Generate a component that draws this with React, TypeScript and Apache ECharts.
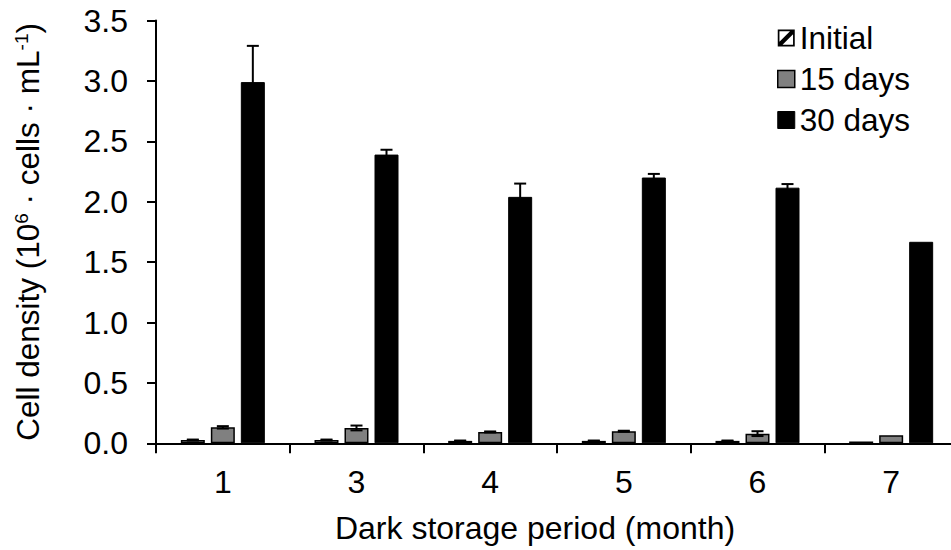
import React, { useEffect, useRef } from "react";
import * as echarts from "echarts";

// Dark storage period (months)
const categories = ["1", "3", "4", "5", "6", "7"];

// Cell density, 10^6 cells/mL
const initialValues = [0.027, 0.027, 0.02, 0.02, 0.02, 0.015];
const initialErrors = [0.004, 0.004, 0.003, 0.003, 0.003, 0.0];
const day15Values = [0.132, 0.127, 0.094, 0.1, 0.08, 0.066];
const day15Errors = [0.01, 0.02, 0.004, 0.004, 0.02, 0.0];
const day30Values = [2.99, 2.39, 2.04, 2.2, 2.116, 1.668];
const day30Errors = [0.3, 0.04, 0.11, 0.03, 0.03, 0.0];

const yTicks = [0, 0.5, 1, 1.5, 2, 2.5, 3, 3.5];

const FONT = "'Liberation Sans', Arial, Helvetica, sans-serif";
const BAR_WIDTH = 24;
const BAR_STEP = 30; // bar width + gap

// hatched square used as the "Initial" legend key
const HATCH_ICON =
  "path://M0,0H100V100H0Z M10,10V90H90V10Z M10,72L72,10H90V28L28,90H10Z";

function errorSeries(values: number[], errors: number[], slot: number) {
  return {
    type: "custom",
    z: 5,
    silent: true,
    data: values.map((v, i) => [i, v, errors[i]]),
    encode: { x: 0, y: 1 },
    renderItem: (params: any, api: any) => {
      const idx = api.value(0);
      const val = api.value(1);
      const err = api.value(2);
      if (!err) return null;
      const hi = api.coord([idx, val + err]);
      const lo = api.coord([idx, Math.max(0, val - err)]);
      const x = hi[0] + slot * BAR_STEP;
      const cap = 6;
      const style = { stroke: "#000", lineWidth: 2 };
      return {
        type: "group",
        children: [
          { type: "line", shape: { x1: x, y1: hi[1], x2: x, y2: lo[1] }, style },
          { type: "line", shape: { x1: x - cap, y1: hi[1], x2: x + cap, y2: hi[1] }, style },
          { type: "line", shape: { x1: x - cap, y1: lo[1], x2: x + cap, y2: lo[1] }, style },
        ],
      };
    },
  };
}

export default function App() {
  const ref = useRef<HTMLDivElement>(null);

  useEffect(() => {
    if (!ref.current) return;
    const chart = echarts.init(ref.current, undefined, { renderer: "svg" });
    const textBase = { color: "#000", fontFamily: FONT };

    chart.setOption({
      animation: false,
      backgroundColor: "#fff",
      textStyle: textBase,
      grid: {
        left: 156,
        right: -7,
        top: 20.5,
        bottom: 106.7,
        containLabel: false,
        outerBoundsMode: "none",
      },
      legend: {
        orient: "vertical",
        left: 777,
        top: 22,
        padding: 0,
        itemWidth: 17,
        itemHeight: 17,
        itemGap: 9,
        textStyle: { ...textBase, fontSize: 31.5, lineHeight: 31 },
        data: [
          {
            name: "Initial",
            icon: HATCH_ICON,
            itemStyle: { color: "#000", borderWidth: 0 },
          },
          {
            name: "15 days",
            icon: "rect",
            itemStyle: { color: "#808080", borderColor: "#000", borderWidth: 1.5 },
          },
          {
            name: "30 days",
            icon: "rect",
            itemStyle: { color: "#000", borderColor: "#000", borderWidth: 1 },
          },
        ],
      },
      xAxis: {
        type: "category",
        data: categories,
        boundaryGap: true,
        name: "Dark storage period (month)",
        nameLocation: "middle",
        nameGap: 69,
        nameTextStyle: {
          ...textBase,
          fontSize: 32,
          lineHeight: 32,
          padding: [0, 44, 0, 0],
        },
        axisLine: { show: true, lineStyle: { color: "#000", width: 2 } },
        axisTick: {
          show: true,
          inside: false,
          length: 10,
          alignWithLabel: false,
          interval: 0,
          lineStyle: { color: "#000", width: 2 },
        },
        axisLabel: {
          interval: 0,
          margin: 23,
          fontSize: 32,
          lineHeight: 32,
          color: "#000",
          fontFamily: FONT,
        },
        splitLine: { show: false },
      },
      yAxis: {
        type: "value",
        min: yTicks[0],
        max: yTicks[yTicks.length - 1],
        interval: 0.5,
        name: "Cell density (10{sup|6} · cells · mL{sup|-1})",
        nameLocation: "middle",
        nameGap: 113,
        nameTextStyle: {
          ...textBase,
          fontSize: 31.5,
          lineHeight: 31,
          rich: {
            sup: {
              fontSize: 19,
              lineHeight: 19,
              verticalAlign: "top",
              color: "#000",
              fontFamily: FONT,
            },
          },
        },
        axisLine: { show: true, lineStyle: { color: "#000", width: 2 } },
        axisTick: {
          show: true,
          inside: false,
          length: 9,
          lineStyle: { color: "#000", width: 2 },
        },
        axisLabel: {
          margin: 28,
          fontSize: 32,
          color: "#000",
          fontFamily: FONT,
          formatter: (v: number) => v.toFixed(1),
        },
        splitLine: { show: false },
      },
      series: [
        {
          name: "Initial",
          type: "bar",
          data: initialValues,
          barWidth: BAR_WIDTH,
          barGap: "25%",
          itemStyle: { color: "#fff", borderColor: "#000", borderWidth: 1.5 },
        },
        {
          name: "15 days",
          type: "bar",
          data: day15Values,
          barWidth: BAR_WIDTH,
          barGap: "25%",
          itemStyle: { color: "#808080", borderColor: "#000", borderWidth: 1.5 },
        },
        {
          name: "30 days",
          type: "bar",
          data: day30Values,
          barWidth: BAR_WIDTH,
          barGap: "25%",
          itemStyle: { color: "#000", borderColor: "#000", borderWidth: 1 },
        },
        errorSeries(initialValues, initialErrors, -1),
        errorSeries(day15Values, day15Errors, 0),
        errorSeries(day30Values, day30Errors, 1),
      ],
    });

    return () => chart.dispose();
  }, []);

  return (
    <div
      ref={ref}
      style={{ position: "absolute", left: 0, top: 0, width: 951, height: 550 }}
    />
  );
}
